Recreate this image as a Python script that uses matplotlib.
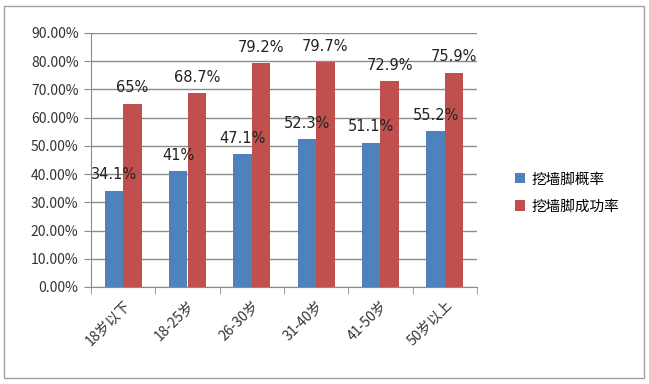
import matplotlib
matplotlib.use("Agg")
import matplotlib.pyplot as plt
import numpy as np
from matplotlib.patches import Rectangle
from matplotlib.ticker import FixedLocator, PercentFormatter

plt.rcParams['font.family'] = ['Noto Sans CJK SC', 'DejaVu Sans']

categories = ["18岁以下", "18-25岁", "26-30岁", "31-40岁", "41-50岁", "50岁以上"]
prob = [34.1, 41, 47.1, 52.3, 51.1, 55.2]
success = [65, 68.7, 79.2, 79.7, 72.9, 75.9]
prob_labels = ["34.1%", "41%", "47.1%", "52.3%", "51.1%", "55.2%"]
success_labels = ["65%", "68.7%", "79.2%", "79.7%", "72.9%", "75.9%"]
series_names = ["挖墙脚概率", "挖墙脚成功率"]

blue = "#4F81BD"
red = "#C0504D"

fig = plt.figure(figsize=(6.49, 3.84), dpi=100)
fig.patch.set_facecolor("white")
fig.patches.append(Rectangle((4/649, 1-378/384), 640/649, 372/384, transform=fig.transFigure,
                             fill=False, edgecolor="#A0A0A0", linewidth=1))

ax = fig.add_axes([91/649, 1-287/384, (477-91)/649, (287-33)/384])
x = np.arange(len(categories))
w = 0.29
b1 = ax.bar(x - w/2, prob, w, color=blue, label=series_names[0], zorder=3)
b2 = ax.bar(x + w/2, success, w, color=red, label=series_names[1], zorder=3)

for rect, lab in zip(b1, prob_labels):
    ax.text(rect.get_x() + rect.get_width()/2, rect.get_height() + 3.0, lab,
            ha="center", va="bottom", fontsize=10.5, color="#222222", family="DejaVu Sans")
for rect, lab in zip(b2, success_labels):
    ax.text(rect.get_x() + rect.get_width()/2, rect.get_height() + 3.0, lab,
            ha="center", va="bottom", fontsize=10.5, color="#222222", family="DejaVu Sans")

ax.set_xlim(-0.5, len(categories) - 0.5)
ax.set_ylim(0, 90)
ax.set_yticks(np.arange(0, 91, 10))
ax.yaxis.set_major_formatter(PercentFormatter(decimals=2))
ax.grid(axis="y", color="#8C8C8C", linewidth=1, zorder=0)
ax.set_axisbelow(True)

ax.set_xticks(x)
ax.set_xticklabels(categories, rotation=45, ha="right", rotation_mode="anchor",
                   fontsize=10, color="#333333")
ax.xaxis.set_minor_locator(FixedLocator(np.arange(-0.5, len(categories), 1)))
ax.tick_params(axis="x", which="major", length=0, pad=8)
ax.tick_params(axis="x", which="minor", length=5, color="#8C8C8C")
ax.tick_params(axis="y", length=5, color="#8C8C8C", labelsize=10, labelcolor="#333333", pad=4)

for s in ["top", "right"]:
    ax.spines[s].set_visible(False)
ax.spines["left"].set_color("#8C8C8C")
ax.spines["bottom"].set_color("#8C8C8C")

ax.legend(loc="center left", bbox_to_anchor=(502/649, 1-193/384), bbox_transform=fig.transFigure,
          frameon=False, fontsize=10.5, handlelength=0.7, handleheight=0.7, handletextpad=0.4,
          labelspacing=0.9)

fig.savefig("out.png", dpi=100)
